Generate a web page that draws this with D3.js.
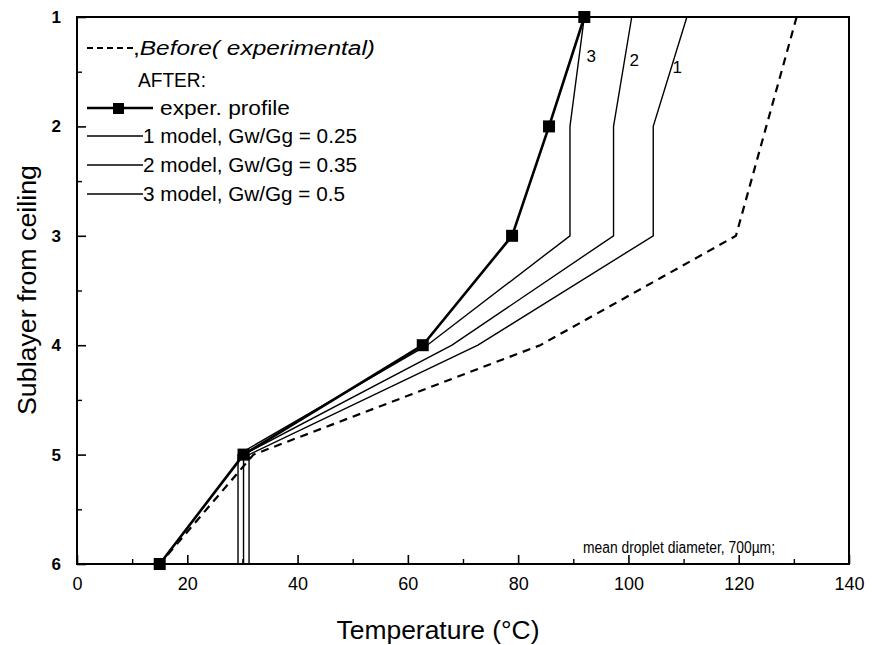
<!DOCTYPE html>
<html>
<head>
<meta charset="utf-8">
<script src="https://cdn.jsdelivr.net/npm/d3@7"></script>
<style>
  html, body { margin: 0; padding: 0; background: #fff; }
  svg { display: block; font-family: "Liberation Sans", Arial, sans-serif; }
</style>
</head>
<body>
<svg id="chart" width="875" height="645"></svg>
<script>
// Sublayer index (1 = ceiling) and temperature profiles in °C
const sublayers = [1, 2, 3, 4, 5, 6];
const beforeExp = [130.5, 125, 119.5, 84, 32, 15];
const afterExp  = [92, 85.6, 78.9, 62.7, 30.2, 15];
const model1    = [110.6, 104.5, 104.5, 72.7, 31.2, 31.2];
const model2    = [100.6, 97.3, 97.3, 68, 30.2, 30.2];
const model3    = [92, 89.4, 89.4, 63.5, 29.2, 29.2];
const xTicks = [0, 20, 40, 60, 80, 100, 120, 140];
const yTicks = [1, 2, 3, 4, 5, 6];
const modelLabels = ["1", "2", "3"];

const svg = d3.select("#chart");
const m = { left: 77, right: 849, top: 17, bottom: 564 };

const x = d3.scaleLinear().domain([0, 140]).range([m.left, m.right]);
const y = d3.scaleLinear().domain([1, 6]).range([m.top, m.bottom]);

const line = d3.line().x(d => x(d[0])).y(d => y(d[1]));
const pts = arr => arr.map((v, i) => [v, sublayers[i]]);

// minor ticks (inward)
const minorX = d3.range(10, 140, 20);
const minorY = d3.range(1.5, 6, 1);

const axisG = svg.append("g");
// bottom axis
const xAxis = d3.axisBottom(x).tickValues(xTicks).tickSize(-9).tickPadding(13).tickFormat(d3.format("d"));
axisG.append("g").attr("transform", `translate(0,${m.bottom})`).call(xAxis)
  .call(g => g.select(".domain").remove())
  .call(g => g.selectAll(".tick line").attr("stroke", "#000").attr("stroke-width", 1.6))
  .call(g => g.selectAll(".tick text").attr("font-size", 18).attr("fill", "#000")
    .attr("font-family", "'Liberation Sans', Arial, sans-serif"));
axisG.append("g").attr("transform", `translate(0,${m.bottom})`)
  .call(d3.axisBottom(x).tickValues(minorX).tickSize(-5).tickFormat(""))
  .call(g => g.select(".domain").remove())
  .call(g => g.selectAll(".tick line").attr("stroke", "#000").attr("stroke-width", 1.4));

// left axis
const yAxis = d3.axisLeft(y).tickValues(yTicks).tickSize(-9).tickPadding(16).tickFormat(d3.format("d"));
axisG.append("g").attr("transform", `translate(${m.left},0)`).call(yAxis)
  .call(g => g.select(".domain").remove())
  .call(g => g.selectAll(".tick line").attr("stroke", "#000").attr("stroke-width", 1.6))
  .call(g => g.selectAll(".tick text").attr("font-size", 17).attr("font-weight", "bold").attr("fill", "#000")
    .attr("font-family", "'Liberation Sans', Arial, sans-serif"));
axisG.append("g").attr("transform", `translate(${m.left},0)`)
  .call(d3.axisLeft(y).tickValues(minorY).tickSize(-5).tickFormat(""))
  .call(g => g.select(".domain").remove())
  .call(g => g.selectAll(".tick line").attr("stroke", "#000").attr("stroke-width", 1.4));

// frame
svg.append("rect")
  .attr("x", m.left).attr("y", m.top)
  .attr("width", m.right - m.left).attr("height", m.bottom - m.top)
  .attr("fill", "none").attr("stroke", "#000").attr("stroke-width", 2);

// axis titles
svg.append("text").attr("x", 438).attr("y", 639).attr("text-anchor", "middle")
  .attr("font-size", 25).attr("textLength", 203).attr("lengthAdjust", "spacingAndGlyphs")
  .text("Temperature (°C)");
svg.append("text").attr("transform", "translate(36,290) rotate(-90)").attr("text-anchor", "middle")
  .attr("font-size", 25).attr("textLength", 250).attr("lengthAdjust", "spacingAndGlyphs")
  .text("Sublayer from ceiling");

const plot = svg.append("g");

// before (experimental) – dashed
plot.append("path").attr("d", line(pts(beforeExp)))
  .attr("fill", "none").attr("stroke", "#000").attr("stroke-width", 2.2)
  .attr("stroke-dasharray", "8,6");

// model curves
[model1, model2, model3].forEach(arr => {
  plot.append("path").attr("d", line(pts(arr)))
    .attr("fill", "none").attr("stroke", "#000").attr("stroke-width", 1.4);
});

// after (experimental) – thick line with squares
plot.append("path").attr("d", line(pts(afterExp)))
  .attr("fill", "none").attr("stroke", "#000").attr("stroke-width", 2.6);
plot.selectAll("rect.sq").data(pts(afterExp)).enter().append("rect")
  .attr("class", "sq")
  .attr("x", d => x(d[0]) - 6).attr("y", d => y(d[1]) - 6)
  .attr("width", 12).attr("height", 12).attr("fill", "#000");

// curve numbers
const labelPos = [[108, 1.47], [100.2, 1.41], [92.4, 1.37]];
modelLabels.forEach((t, i) => {
  plot.append("text").attr("x", x(labelPos[i][0])).attr("y", y(labelPos[i][1]))
    .attr("font-size", 17).attr("dominant-baseline", "middle").text(t);
});

// legend
const lg = svg.append("g").attr("font-size", 20);
lg.append("line").attr("x1", 87).attr("x2", 133).attr("y1", 48).attr("y2", 48)
  .attr("stroke", "#000").attr("stroke-width", 2).attr("stroke-dasharray", "6,4");
const t0 = lg.append("text").attr("x", 133).attr("y", 55)
  .attr("textLength", 242).attr("lengthAdjust", "spacingAndGlyphs");
t0.append("tspan").text(",");
t0.append("tspan").attr("font-style", "italic").text("Before( experimental)");
lg.append("text").attr("x", 138).attr("y", 87)
  .attr("textLength", 68).attr("lengthAdjust", "spacingAndGlyphs").text("AFTER:");
lg.append("line").attr("x1", 87).attr("x2", 153).attr("y1", 108).attr("y2", 108)
  .attr("stroke", "#000").attr("stroke-width", 2.4);
lg.append("rect").attr("x", 113).attr("y", 103).attr("width", 11).attr("height", 11).attr("fill", "#000");
lg.append("text").attr("x", 160).attr("y", 115)
  .attr("textLength", 130).attr("lengthAdjust", "spacingAndGlyphs").text("exper. profile");
const legModels = ["1 model, Gw/Gg = 0.25", "2 model, Gw/Gg = 0.35", "3 model, Gw/Gg = 0.5"];
const legLen = [214, 214, 202];
legModels.forEach((t, i) => {
  const yy = 136 + i * 29;
  lg.append("line").attr("x1", 87).attr("x2", 143).attr("y1", yy).attr("y2", yy)
    .attr("stroke", "#000").attr("stroke-width", 1.3);
  lg.append("text").attr("x", 143).attr("y", yy + 7)
    .attr("textLength", legLen[i]).attr("lengthAdjust", "spacingAndGlyphs").text(t);
});

// note
svg.append("text").attr("x", 583).attr("y", 553).attr("font-size", 16)
  .attr("textLength", 192).attr("lengthAdjust", "spacingAndGlyphs")
  .text("mean droplet diameter, 700µm;");
</script>
</body>
</html>
